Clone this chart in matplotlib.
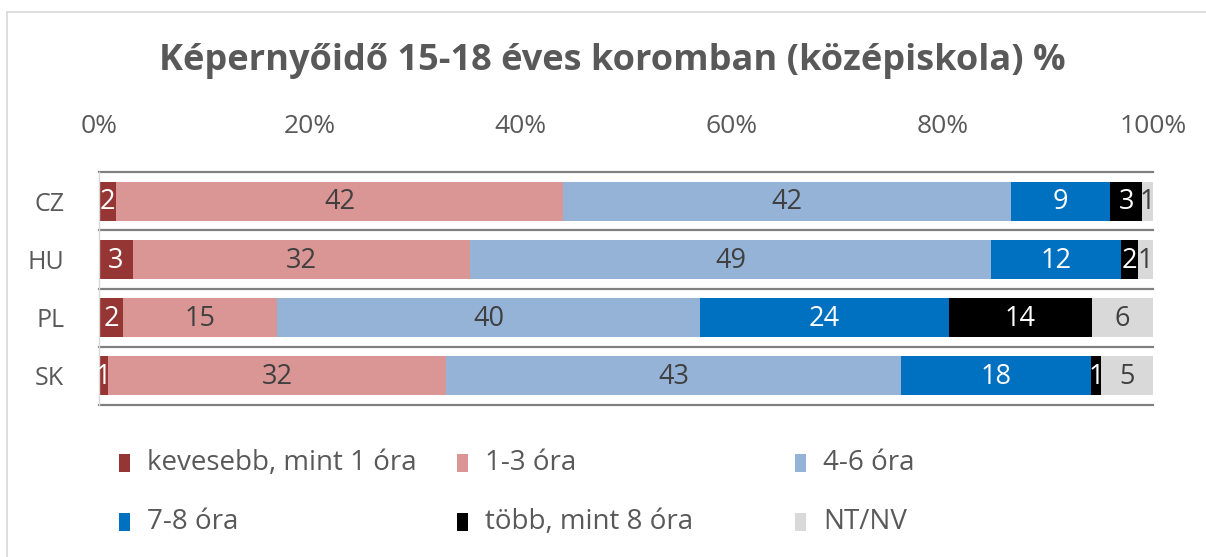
import matplotlib
matplotlib.use("Agg")
import matplotlib.pyplot as plt
from matplotlib.patches import Rectangle
from matplotlib.lines import Line2D
import numpy as np

countries = ["CZ", "HU", "PL", "SK"]
series_names = ["kevesebb, mint 1 óra", "1-3 óra", "4-6 óra", "7-8 óra",
                "több, mint 8 óra", "NT/NV"]
less_1 = [1.6, 3.2, 2.3, 0.9]
h1_3 = [42.4, 32.0, 14.6, 32.0]
h4_6 = [42.4, 49.3, 40.2, 43.2]
h7_8 = [9.4, 12.4, 23.6, 18.0]
more_8 = [3.1, 1.6, 13.6, 1.0]
nt_nv = [1.0, 1.4, 5.8, 4.9]
xticks = [0, 20, 40, 60, 80, 100]
xtick_labels = ["0%", "20%", "40%", "60%", "80%", "100%"]

colors = ["#963634", "#DA9694", "#95B3D7", "#0070C0", "#000000", "#D9D9D9"]
label_colors = ["white", "#404040", "#404040", "white", "white", "#404040"]

FONT = "Open Sans"
plt.rcParams["font.family"] = [FONT, "DejaVu Sans"]

W, H = 1206, 557
fig = plt.figure(figsize=(W / 100, H / 100), dpi=100)
fig.patch.set_facecolor("white")

ax = fig.add_axes([99 / W, 1 - 405 / H, 1054 / W, 233 / H])

data = np.array([less_1, h1_3, h4_6, h7_8, more_8, nt_nv])
totals = data.sum(axis=0)
pct = data / totals * 100
y = np.arange(len(countries))
left = np.zeros(len(countries))
for i in range(len(series_names)):
    bars = ax.barh(y, pct[i], left=left, height=0.67, color=colors[i],
                   label=series_names[i], linewidth=0)
    for j, b in enumerate(bars):
        cx = b.get_x() + b.get_width() / 2
        ax.text(cx, y[j] + 0.02, f"{data[i][j]:.0f}", ha="center", va="center",
                fontsize=19.5, color=label_colors[i])
    left += pct[i]

ax.set_xlim(0, 100)
ax.set_ylim(len(countries) - 0.5, -0.5)
ax.set_yticks(y)
ax.set_yticklabels(countries, fontsize=18, color="#595959")
ax.xaxis.tick_top()
ax.set_xticks(xticks)
ax.set_xticklabels(xtick_labels, fontsize=19, color="#595959")
ax.tick_params(axis="x", length=0, pad=24)
ax.tick_params(axis="y", length=0, pad=25)
for k in range(len(countries) + 1):
    ax.axhline(k - 0.5, color="#808080", lw=1.6, zorder=0, clip_on=False)
for s in ["top", "right", "bottom"]:
    ax.spines[s].set_visible(False)
ax.spines["left"].set_color("#D9D9D9")
ax.spines["left"].set_linewidth(1)

fig.text(612 / W, 1 - 61 / H, "Képernyőidő 15-18 éves koromban (középiskola) %",
         ha="center", va="center", fontsize=26, fontweight="bold", color="#595959")

# chart frame
fig.add_artist(Line2D([7 / W, 1], [1 - 12 / H, 1 - 12 / H], color="#D9D9D9", lw=1.2))
fig.add_artist(Line2D([7 / W, 7 / W], [0, 1 - 12 / H], color="#D9D9D9", lw=1.2))

# legend
col_x = [119, 457, 795]
row_y = [463, 522]
for idx, name in enumerate(series_names):
    r, c = divmod(idx, 3)
    x0 = col_x[c]
    yc = row_y[r]
    fig.add_artist(Rectangle((x0 / W, 1 - (yc + 9) / H), 11 / W, 18 / H,
                             transform=fig.transFigure, color=colors[idx], lw=0))
    fig.text((x0 + 28) / W, 1 - yc / H, name, ha="left", va="center",
             fontsize=20, color="#595959")

fig.savefig("out.png", dpi=100, facecolor="white")
